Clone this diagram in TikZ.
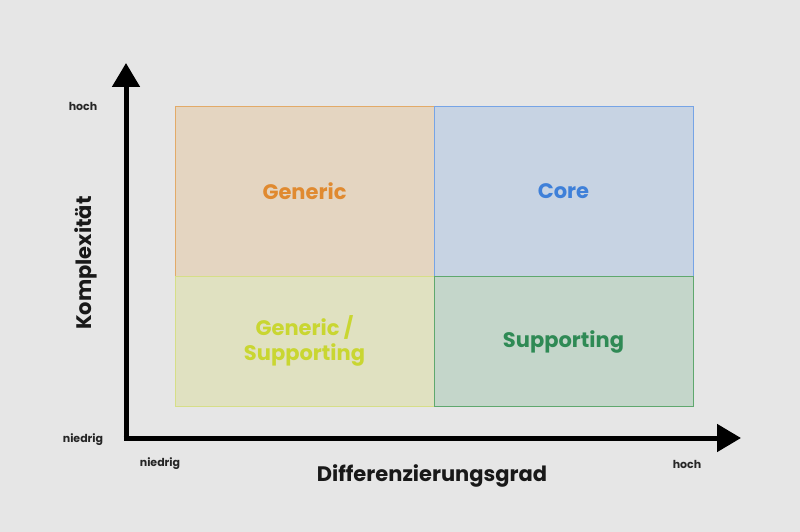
\documentclass[tikz,border=0pt]{standalone}
\usepackage{fontspec}
\setmainfont{Poppins}
\usetikzlibrary{arrows.meta}
\definecolor{bg}{HTML}{E6E6E6}
\definecolor{genfill}{HTML}{E4D5C1}
\definecolor{gendraw}{HTML}{E2AA68}
\definecolor{gentext}{HTML}{E08A30}
\definecolor{corefill}{HTML}{C7D3E3}
\definecolor{coredraw}{HTML}{76A4E6}
\definecolor{coretext}{HTML}{3F80D9}
\definecolor{gsfill}{HTML}{E0E1C1}
\definecolor{gsdraw}{HTML}{D6DE88}
\definecolor{gstext}{HTML}{C9D631}
\definecolor{supfill}{HTML}{C4D6CA}
\definecolor{supdraw}{HTML}{5FA86E}
\definecolor{suptext}{HTML}{2F8A55}
\tikzset{
  quad/.style={draw=#1draw, fill=#1fill, line width=0.9pt},
  quadlabel/.style={font=\fontsize{21}{25}\selectfont\bfseries, align=center},
  small/.style={font=\fontsize{11}{13}\selectfont\bfseries, text=black!85},
  axistitle/.style={font=\fontsize{21}{24}\selectfont\bfseries, text=black!90},
  axis/.style={line width=5pt, -{Triangle[length=24pt,width=27pt]}}
}
\begin{document}
\begin{tikzpicture}[x=1pt,y=-1pt]
\fill[bg] (0,0) rectangle (800,532);
\useasboundingbox (0,0) rectangle (800,532);
% quadrants
\draw[quad=gen] (175,106) rectangle (434,276);
\draw[quad=core] (434,106) rectangle (693,276);
\draw[quad=gs] (175,276) rectangle (434,406);
\draw[quad=sup] (434,276) rectangle (693,406);
\node[quadlabel, text=gentext] (generic) at (304.5,191) {Generic};
\node[quadlabel, text=coretext] (core) at (563.5,191) {Core};
\node[quadlabel, text=gstext] (gs) at (304.5,341) {Generic /\\Supporting};
\node[quadlabel, text=suptext] (sup) at (563.5,342) {Supporting};
% axes
\coordinate (origin) at (126,438);
\coordinate (ytip) at (126,63);
\coordinate (xtip) at (741,438);
\draw[axis] (126,440.5) -- (ytip);
\draw[axis] (123.5,438) -- (xtip);
% labels
\node[small] (yhigh) at (83,106) {hoch};
\node[small] (ylow) at (83,440) {niedrig};
\node[small] (xlow) at (160,464) {niedrig};
\node[small] (xhigh) at (687,464) {hoch};
\node[axistitle, rotate=90] (ytitle) at (86,263) {Komplexität};
\node[axistitle] (xtitle) at (432,476) {Differenzierungsgrad};
\end{tikzpicture}
\end{document}
